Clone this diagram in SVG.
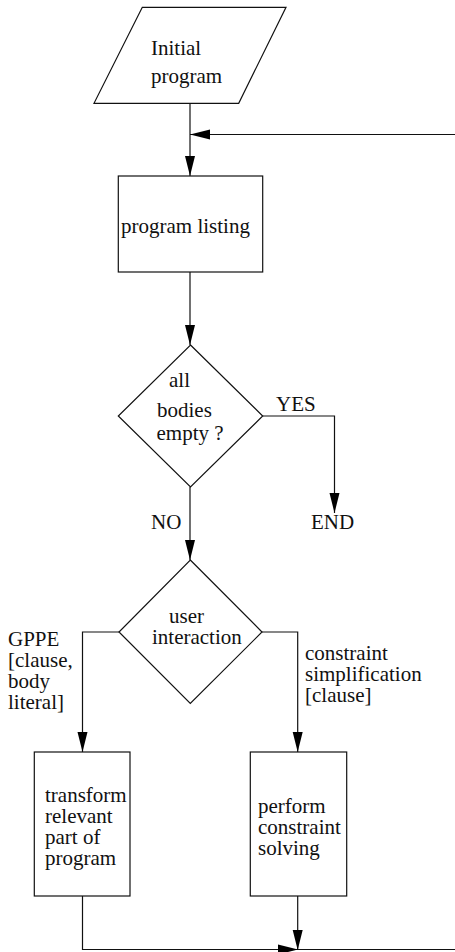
<svg xmlns="http://www.w3.org/2000/svg" width="455" height="952" viewBox="0 0 455 952">
<style>
text { font-family: "Liberation Serif", "Times New Roman", serif; font-size: 21px; fill: #111; }
.shape { fill: #fff; stroke: #111; stroke-width: 1.2; }
.conn { fill: none; stroke: #111; stroke-width: 1.2; }
.head { fill: #000; stroke: none; }
</style>
<rect width="455" height="952" fill="#fff"/>
<g id="connectors">
  <path class="conn" d="M190,103 V176"/>
  <path class="conn" d="M455,134.5 H190"/>
  <path class="conn" d="M190,272 V345"/>
  <path class="conn" d="M262.7,416 H334.5 V513"/>
  <path class="conn" d="M190,487 V560"/>
  <path class="conn" d="M119,632 H82.5 V752"/>
  <path class="conn" d="M262,632 H297.7 V752"/>
  <path class="conn" d="M82.5,896 V949.5 H455"/>
  <path class="conn" d="M297.7,896 V950"/>
  <polygon class="head" points="190,134.5 210,129.5 210,139.5"/>
  <polygon class="head" points="190,176 185,156 195,156"/>
  <polygon class="head" points="190,345 185,325 195,325"/>
  <polygon class="head" points="334.5,513 329.5,493 339.5,493"/>
  <polygon class="head" points="190,560 185,540 195,540"/>
  <polygon class="head" points="82.5,752 77.5,732 87.5,732"/>
  <polygon class="head" points="297.7,752 292.7,732 302.7,732"/>
  <polygon class="head" points="297.7,950 292.7,930 302.7,930"/>
  <polygon class="head" points="298,949.5 278,944.5 278,954.5"/>
  <text x="276" y="411">YES</text>
  <text x="311" y="529">END</text>
  <text x="151" y="529">NO</text>
  <text x="8" y="646">GPPE</text>
  <text x="8" y="667">[clause,</text>
  <text x="8" y="688">body</text>
  <text x="8" y="709">literal]</text>
  <text x="305" y="660">constraint</text>
  <text x="305" y="681">simplification</text>
  <text x="305" y="702">[clause]</text>
</g>
<g id="initial">
  <polygon class="shape" points="142.3,7.3 286,7.3 238.7,103.3 94,103.3"/>
  <text x="151" y="55">Initial</text>
  <text x="151" y="83">program</text>
</g>
<g id="listing">
  <rect class="shape" x="118.3" y="176" width="144.4" height="96"/>
  <text x="121" y="233">program listing</text>
</g>
<g id="empty">
  <polygon class="shape" points="190.5,345 262.7,416 190.5,487 118.3,416"/>
  <text x="169" y="387">all</text>
  <text x="157" y="417">bodies</text>
  <text x="156.5" y="440">empty ?</text>
</g>
<g id="interaction">
  <polygon class="shape" points="190.3,560 262,632 190.3,703.5 119,632"/>
  <text x="169" y="623">user</text>
  <text x="152" y="644">interaction</text>
</g>
<g id="transform">
  <rect class="shape" x="34.3" y="752" width="95.7" height="144"/>
  <text x="45" y="802">transform</text>
  <text x="45" y="823">relevant</text>
  <text x="45" y="844">part of</text>
  <text x="45" y="865">program</text>
</g>
<g id="solve">
  <rect class="shape" x="250.3" y="752" width="96.4" height="144"/>
  <text x="258" y="813">perform</text>
  <text x="258" y="834">constraint</text>
  <text x="258" y="855">solving</text>
</g>
</svg>
